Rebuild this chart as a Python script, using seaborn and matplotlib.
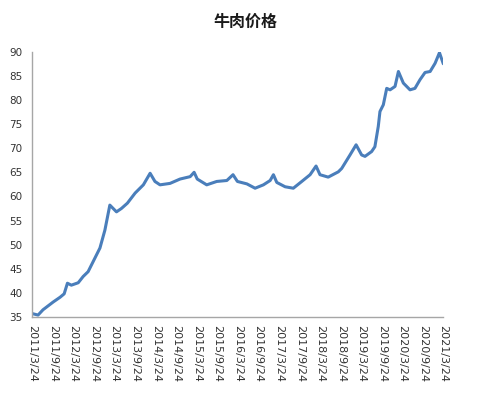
import matplotlib
matplotlib.use("Agg")
import matplotlib.pyplot as plt
import seaborn as sns
import pandas as pd
import numpy as np

# ---- data ----
dates = [
    "2011-03-24", "2011-05-14", "2011-06-27", "2011-09-25", "2011-11-26", "2012-01-01",
    "2012-01-30", "2012-03-05", "2012-05-05", "2012-06-18", "2012-08-01", "2012-09-30",
    "2012-11-14", "2012-12-28", "2013-02-10", "2013-04-10", "2013-05-24", "2013-07-16",
    "2013-09-23", "2013-12-05", "2014-02-03", "2014-03-18", "2014-05-02", "2014-07-30",
    "2014-10-27", "2015-01-25", "2015-03-01", "2015-03-29", "2015-06-21", "2015-09-18",
    "2015-12-17", "2016-02-10", "2016-03-20", "2016-06-12", "2016-08-24", "2016-11-06",
    "2017-01-05", "2017-02-03", "2017-03-05", "2017-05-18", "2017-07-30", "2017-10-13",
    "2017-12-26", "2018-02-17", "2018-03-24", "2018-06-05", "2018-09-03", "2018-10-03",
    "2018-12-16", "2019-02-08", "2019-03-29", "2019-04-28", "2019-06-26", "2019-07-25",
    "2019-08-24", "2019-09-08", "2019-10-08", "2019-11-07", "2019-12-07", "2020-01-20",
    "2020-02-19", "2020-04-03", "2020-06-01", "2020-07-15", "2020-08-29", "2020-10-13",
    "2020-11-27", "2021-01-10", "2021-02-18", "2021-03-24",
]
prices = [
    35.7, 35.4, 36.5, 38.1, 39.1, 39.8,
    42.0, 41.6, 42.1, 43.4, 44.4, 47.2,
    49.3, 53.0, 58.2, 56.8, 57.5, 58.6,
    60.7, 62.4, 64.8, 63.1, 62.4, 62.7,
    63.6, 64.1, 65.0, 63.6, 62.4, 63.1,
    63.3, 64.5, 63.1, 62.6, 61.7, 62.4,
    63.3, 64.5, 62.9, 62.0, 61.7, 63.1,
    64.5, 66.3, 64.5, 64.0, 65.1, 65.8,
    68.6, 70.7, 68.6, 68.3, 69.3, 70.3,
    74.5, 77.6, 79.0, 82.4, 82.1, 82.8,
    85.9, 83.5, 82.1, 82.4, 84.2, 85.7,
    85.9, 87.6, 89.8, 87.5,
]
tick_dates = [
    "2011-03-24", "2011-09-24", "2012-03-24", "2012-09-24", "2013-03-24", "2013-09-24",
    "2014-03-24", "2014-09-24", "2015-03-24", "2015-09-24", "2016-03-24", "2016-09-24",
    "2017-03-24", "2017-09-24", "2018-03-24", "2018-09-24", "2019-03-24", "2019-09-24",
    "2020-03-24", "2020-09-24", "2021-03-24",
]
tick_labels = [
    "2011/3/24", "2011/9/24", "2012/3/24", "2012/9/24", "2013/3/24", "2013/9/24",
    "2014/3/24", "2014/9/24", "2015/3/24", "2015/9/24", "2016/3/24", "2016/9/24",
    "2017/3/24", "2017/9/24", "2018/3/24", "2018/9/24", "2019/3/24", "2019/9/24",
    "2020/3/24", "2020/9/24", "2021/3/24",
]
y_ticks = [35, 40, 45, 50, 55, 60, 65, 70, 75, 80, 85, 90]
title = "牛肉价格"

df = pd.DataFrame({"date": pd.to_datetime(dates), "price": prices})

sns.set_style("white")
plt.rcParams["font.family"] = ["DejaVu Sans", "Noto Sans CJK SC"]

fig = plt.figure(figsize=(4.92, 3.93), dpi=100)
ax = fig.add_axes([0.0657, 0.1934, 0.901 - 0.0657, 0.8684 - 0.1934])

sns.lineplot(data=df, x="date", y="price", ax=ax, color="#4A7EBB", linewidth=2.2)

ax.set_xlim(pd.Timestamp(tick_dates[0]), pd.Timestamp(tick_dates[-1]))
ax.set_ylim(35, 90)
ax.set_yticks(y_ticks)
ax.set_yticklabels([str(v) for v in y_ticks])
ax.set_xticks(pd.to_datetime(tick_dates))
ax.set_xticklabels(tick_labels, rotation=-90, ha="center", va="top")
ax.set_xlabel("")
ax.set_ylabel("")

for s in ["top", "right"]:
    ax.spines[s].set_visible(False)
for s in ["left", "bottom"]:
    ax.spines[s].set_color("#A6A6A6")
    ax.spines[s].set_linewidth(1.0)

ax.tick_params(axis="both", which="major", direction="out", length=3, width=0.8,
               color="#A6A6A6", labelcolor="#333333")
ax.tick_params(axis="y", labelsize=7.5, pad=4)
ax.tick_params(axis="x", labelsize=8, pad=3)
ax.grid(False)

fig.text(0.5, 0.944, title, ha="center", va="center", fontsize=11.5, fontweight="bold",
         family=["Noto Sans CJK SC", "DejaVu Sans"], color="#1a1a1a")

fig.savefig("out.png", dpi=100, facecolor="white")
